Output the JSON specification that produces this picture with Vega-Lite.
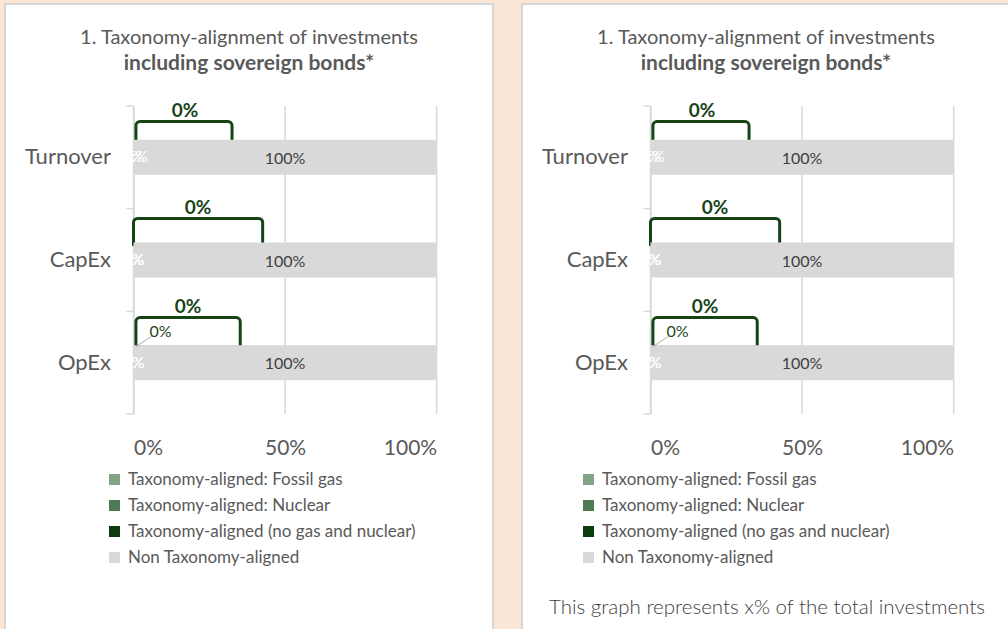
{
  "$schema": "https://vega.github.io/schema/vega-lite/v6.json",
  "background": "#FBE6D6",
  "padding": {"left": 4, "top": 3, "right": 0, "bottom": 0},
  "bounds": "flush",
  "spacing": 29,
  "config": {
    "font": "Lato",
    "view": {"fill": "white", "stroke": "#D6D6D6", "strokeWidth": 2}
  },
  "datasets": {
    "segments": [
      {"category": "Turnover", "series": "Taxonomy-aligned: Fossil gas", "value": 0, "label": "xx%"},
      {"category": "Turnover", "series": "Taxonomy-aligned: Nuclear", "value": 0, "label": "x%"},
      {"category": "Turnover", "series": "Taxonomy-aligned (no gas and nuclear)", "value": 0, "label": ""},
      {"category": "Turnover", "series": "Non Taxonomy-aligned", "value": 1, "label": "100%"},
      {"category": "CapEx", "series": "Taxonomy-aligned: Fossil gas", "value": 0, "label": "x%"},
      {"category": "CapEx", "series": "Taxonomy-aligned: Nuclear", "value": 0, "label": "0%"},
      {"category": "CapEx", "series": "Taxonomy-aligned (no gas and nuclear)", "value": 0, "label": ""},
      {"category": "CapEx", "series": "Non Taxonomy-aligned", "value": 1, "label": "100%"},
      {"category": "OpEx", "series": "Taxonomy-aligned: Fossil gas", "value": 0, "label": "0%"},
      {"category": "OpEx", "series": "Taxonomy-aligned: Nuclear", "value": 0, "label": "0%"},
      {"category": "OpEx", "series": "Taxonomy-aligned (no gas and nuclear)", "value": 0, "label": "0%"},
      {"category": "OpEx", "series": "Non Taxonomy-aligned", "value": 1, "label": "100%"}
    ],
    "brackets": [
      {"category": "Turnover", "start": 0.008, "end": 0.325, "mid": 0.17, "label": "0%"},
      {"category": "CapEx", "start": 0.0, "end": 0.426, "mid": 0.213, "label": "0%"},
      {"category": "OpEx", "start": 0.008, "end": 0.352, "mid": 0.18, "label": "0%"}
    ],
    "ticks": [{"tick": 0}, {"tick": 0.5}, {"tick": 1}]
  },
  "resolve": {"legend": {"color": "independent"}},
  "hconcat": [
    {
      "width": 488,
      "height": 626,
      "title": {
        "text": "1. Taxonomy-alignment of investments",
        "subtitle": "including sovereign bonds*",
        "anchor": "middle", "frame": "group", "offset": -70,
        "fontSize": 20, "fontWeight": "normal", "color": "#595959",
        "subtitleFontSize": 21, "subtitleFontWeight": "bold", "subtitleColor": "#595959",
        "subtitlePadding": 5, "font": "Lato", "subtitleFont": "Lato"
      },
      "layer": [
        {
          "data": {"name": "ticks"},
          "mark": {"type": "rule", "color": "#D9D9D9", "strokeWidth": 1.5, "yOffset": -51.33, "y2Offset": 51.33},
          "encoding": {
            "x": {"field": "tick", "type": "quantitative",
              "scale": {"domain": [0, 1], "range": [128.5, 431.7], "nice": false, "zero": false},
              "axis": {"values": [0, 0.5, 1], "format": ".0%", "grid": false, "domain": false, "ticks": false, "labelFontSize": 21, "labelColor": "#595959", "labelPadding": 23, "offset": -216, "title": null}},
            "y": {"datum": "Turnover", "type": "nominal",
              "scale": {"type": "band", "domain": ["Turnover", "CapEx", "OpEx"], "range": [102, 410], "paddingInner": 0.659, "paddingOuter": 0.3295},
              "axis": {"orient": "left", "offset": -128.5, "title": null, "domainColor": "#D9D9D9", "domainWidth": 1.5, "ticks": false, "labelFontSize": 22, "labelColor": "#595959", "labelPadding": 23, "grid": false}},
            "y2": {"datum": "OpEx"}
          }
        },
        {
          "data": {"name": "segments"},
          "transform": [{"filter": "datum.series == 'Non Taxonomy-aligned'"}],
          "mark": {"type": "rule", "color": "#D9D9D9", "strokeWidth": 1.5, "yOffset": -51.33},
          "encoding": {
            "y": {"field": "category", "type": "nominal"},
            "x": {"datum": -0.0231, "type": "quantitative"},
            "x2": {"datum": 0}
          }
        },
        {
          "data": {"name": "segments"},
          "transform": [{"filter": "datum.series == 'Non Taxonomy-aligned' && datum.category == 'OpEx'"}],
          "mark": {"type": "rule", "color": "#D9D9D9", "strokeWidth": 1.5, "yOffset": 51.33},
          "encoding": {
            "y": {"field": "category", "type": "nominal"},
            "x": {"datum": -0.0231, "type": "quantitative"},
            "x2": {"datum": 0}
          }
        },
        {
          "data": {"name": "brackets"},
          "transform": [{"filter": "datum.category == 'Turnover'"}],
          "mark": {"type": "bar", "fill": "transparent", "stroke": "#164417", "strokeWidth": 3, "size": 20.3, "yOffset": -25.65, "cornerRadiusTopLeft": 4, "cornerRadiusTopRight": 4},
          "encoding": {"y": {"field": "category", "type": "nominal"}, "x": {"field": "start", "type": "quantitative"}, "x2": {"field": "end"}}
        },
        {
          "data": {"name": "brackets"},
          "transform": [{"filter": "datum.category == 'CapEx'"}],
          "mark": {"type": "bar", "fill": "transparent", "stroke": "#164417", "strokeWidth": 3, "size": 26, "yOffset": -28.5, "cornerRadiusTopLeft": 4, "cornerRadiusTopRight": 4},
          "encoding": {"y": {"field": "category", "type": "nominal"}, "x": {"field": "start", "type": "quantitative"}, "x2": {"field": "end"}}
        },
        {
          "data": {"name": "brackets"},
          "transform": [{"filter": "datum.category == 'OpEx'"}],
          "mark": {"type": "bar", "fill": "transparent", "stroke": "#164417", "strokeWidth": 3, "size": 29.6, "yOffset": -30.3, "cornerRadiusTopLeft": 4, "cornerRadiusTopRight": 4},
          "encoding": {"y": {"field": "category", "type": "nominal"}, "x": {"field": "start", "type": "quantitative"}, "x2": {"field": "end"}}
        },
        {
          "data": {"name": "segments"},
          "mark": {"type": "bar"},
          "encoding": {
            "y": {"field": "category", "type": "nominal"},
            "x": {"field": "value", "type": "quantitative", "stack": "zero"},
            "color": {"field": "series", "type": "nominal",
              "scale": {"domain": ["Taxonomy-aligned: Fossil gas", "Taxonomy-aligned: Nuclear", "Taxonomy-aligned (no gas and nuclear)", "Non Taxonomy-aligned"], "range": ["#82A385", "#4E7B53", "#0D3B0F", "#D9D9D9"]},
              "legend": {"orient": "none", "legendX": 101, "legendY": 467, "title": null, "symbolType": "square", "symbolSize": 121, "symbolStrokeWidth": 0, "labelFontSize": 17, "labelColor": "#595959", "labelLimit": 500, "rowPadding": 8, "labelOffset": 5, "labelFont": "Lato"}}
          }
        },
        {
          "data": {"name": "segments"},
          "transform": [{"filter": "datum.series == 'Taxonomy-aligned: Fossil gas' || datum.series == 'Taxonomy-aligned: Nuclear'"}],
          "mark": {"type": "text", "color": "white", "fontSize": 16, "align": "center", "baseline": "middle"},
          "encoding": {"y": {"field": "category", "type": "nominal"}, "x": {"datum": 0, "type": "quantitative"}, "text": {"field": "label"}}
        },
        {
          "data": {"name": "segments"},
          "transform": [{"filter": "datum.series == 'Non Taxonomy-aligned'"}],
          "mark": {"type": "text", "color": "#404040", "fontSize": 16, "align": "center", "baseline": "middle", "dy": 1.5},
          "encoding": {"y": {"field": "category", "type": "nominal"}, "x": {"datum": 0.5, "type": "quantitative"}, "text": {"field": "label"}}
        },
        {
          "data": {"name": "segments"},
          "transform": [{"filter": "datum.series == 'Taxonomy-aligned (no gas and nuclear)' && datum.category == 'OpEx'"}],
          "mark": {"type": "point", "shape": "M-1,0.66L1,-0.66", "size": 246, "filled": false, "stroke": "#7A9A7A", "strokeWidth": 1, "yOffset": -21.2},
          "encoding": {"y": {"field": "category", "type": "nominal"}, "x": {"datum": 0.034, "type": "quantitative"}}
        },
        {
          "data": {"name": "segments"},
          "transform": [{"filter": "datum.series == 'Taxonomy-aligned (no gas and nuclear)' && datum.category == 'OpEx'"}],
          "mark": {"type": "text", "color": "#1E4620", "fontSize": 16, "align": "center", "baseline": "alphabetic", "dy": -26},
          "encoding": {"y": {"field": "category", "type": "nominal"}, "x": {"datum": 0.089, "type": "quantitative"}, "text": {"field": "label"}}
        },
        {
          "data": {"name": "brackets"},
          "transform": [{"filter": "datum.category == 'Turnover'"}],
          "mark": {"type": "text", "color": "#164417", "fontSize": 19, "fontWeight": "bold", "align": "center", "baseline": "alphabetic", "dy": -40.5},
          "encoding": {"y": {"field": "category", "type": "nominal"}, "x": {"field": "mid", "type": "quantitative"}, "text": {"field": "label"}}
        },
        {
          "data": {"name": "brackets"},
          "transform": [{"filter": "datum.category == 'CapEx'"}],
          "mark": {"type": "text", "color": "#164417", "fontSize": 19, "fontWeight": "bold", "align": "center", "baseline": "alphabetic", "dy": -45.9},
          "encoding": {"y": {"field": "category", "type": "nominal"}, "x": {"field": "mid", "type": "quantitative"}, "text": {"field": "label"}}
        },
        {
          "data": {"name": "brackets"},
          "transform": [{"filter": "datum.category == 'OpEx'"}],
          "mark": {"type": "text", "color": "#164417", "fontSize": 19, "fontWeight": "bold", "align": "center", "baseline": "alphabetic", "dy": -49.5},
          "encoding": {"y": {"field": "category", "type": "nominal"}, "x": {"field": "mid", "type": "quantitative"}, "text": {"field": "label"}}
        }
      ]
    },
    {
      "width": 488,
      "height": 626,
      "title": {
        "text": "1. Taxonomy-alignment of investments",
        "subtitle": "including sovereign bonds*",
        "anchor": "middle", "frame": "group", "offset": -70,
        "fontSize": 20, "fontWeight": "normal", "color": "#595959",
        "subtitleFontSize": 21, "subtitleFontWeight": "bold", "subtitleColor": "#595959",
        "subtitlePadding": 5, "font": "Lato", "subtitleFont": "Lato"
      },
      "layer": [
        {
          "data": {"name": "ticks"},
          "mark": {"type": "rule", "color": "#D9D9D9", "strokeWidth": 1.5, "yOffset": -51.33, "y2Offset": 51.33},
          "encoding": {
            "x": {"field": "tick", "type": "quantitative",
              "scale": {"domain": [0, 1], "range": [128.5, 431.7], "nice": false, "zero": false},
              "axis": {"values": [0, 0.5, 1], "format": ".0%", "grid": false, "domain": false, "ticks": false, "labelFontSize": 21, "labelColor": "#595959", "labelPadding": 23, "offset": -216,
                "title": "This graph represents x% of the total investments", "titleFont": "Lato", "titleFontWeight": 300, "titleFontSize": 20.5, "titleColor": "#404040", "titleX": 244.5, "titleY": 199, "titleBaseline": "alphabetic", "titleAlign": "center"}},
            "y": {"datum": "Turnover", "type": "nominal",
              "scale": {"type": "band", "domain": ["Turnover", "CapEx", "OpEx"], "range": [102, 410], "paddingInner": 0.659, "paddingOuter": 0.3295},
              "axis": {"orient": "left", "offset": -128.5, "title": null, "domainColor": "#D9D9D9", "domainWidth": 1.5, "ticks": false, "labelFontSize": 22, "labelColor": "#595959", "labelPadding": 23, "grid": false}},
            "y2": {"datum": "OpEx"}
          }
        },
        {
          "data": {"name": "segments"},
          "transform": [{"filter": "datum.series == 'Non Taxonomy-aligned'"}],
          "mark": {"type": "rule", "color": "#D9D9D9", "strokeWidth": 1.5, "yOffset": -51.33},
          "encoding": {
            "y": {"field": "category", "type": "nominal"},
            "x": {"datum": -0.0231, "type": "quantitative"},
            "x2": {"datum": 0}
          }
        },
        {
          "data": {"name": "segments"},
          "transform": [{"filter": "datum.series == 'Non Taxonomy-aligned' && datum.category == 'OpEx'"}],
          "mark": {"type": "rule", "color": "#D9D9D9", "strokeWidth": 1.5, "yOffset": 51.33},
          "encoding": {
            "y": {"field": "category", "type": "nominal"},
            "x": {"datum": -0.0231, "type": "quantitative"},
            "x2": {"datum": 0}
          }
        },
        {
          "data": {"name": "brackets"},
          "transform": [{"filter": "datum.category == 'Turnover'"}],
          "mark": {"type": "bar", "fill": "transparent", "stroke": "#164417", "strokeWidth": 3, "size": 20.3, "yOffset": -25.65, "cornerRadiusTopLeft": 4, "cornerRadiusTopRight": 4},
          "encoding": {"y": {"field": "category", "type": "nominal"}, "x": {"field": "start", "type": "quantitative"}, "x2": {"field": "end"}}
        },
        {
          "data": {"name": "brackets"},
          "transform": [{"filter": "datum.category == 'CapEx'"}],
          "mark": {"type": "bar", "fill": "transparent", "stroke": "#164417", "strokeWidth": 3, "size": 26, "yOffset": -28.5, "cornerRadiusTopLeft": 4, "cornerRadiusTopRight": 4},
          "encoding": {"y": {"field": "category", "type": "nominal"}, "x": {"field": "start", "type": "quantitative"}, "x2": {"field": "end"}}
        },
        {
          "data": {"name": "brackets"},
          "transform": [{"filter": "datum.category == 'OpEx'"}],
          "mark": {"type": "bar", "fill": "transparent", "stroke": "#164417", "strokeWidth": 3, "size": 29.6, "yOffset": -30.3, "cornerRadiusTopLeft": 4, "cornerRadiusTopRight": 4},
          "encoding": {"y": {"field": "category", "type": "nominal"}, "x": {"field": "start", "type": "quantitative"}, "x2": {"field": "end"}}
        },
        {
          "data": {"name": "segments"},
          "mark": {"type": "bar"},
          "encoding": {
            "y": {"field": "category", "type": "nominal"},
            "x": {"field": "value", "type": "quantitative", "stack": "zero"},
            "color": {"field": "series", "type": "nominal",
              "scale": {"domain": ["Taxonomy-aligned: Fossil gas", "Taxonomy-aligned: Nuclear", "Taxonomy-aligned (no gas and nuclear)", "Non Taxonomy-aligned"], "range": ["#82A385", "#4E7B53", "#0D3B0F", "#D9D9D9"]},
              "legend": {"orient": "none", "legendX": 58, "legendY": 467, "title": null, "symbolType": "square", "symbolSize": 121, "symbolStrokeWidth": 0, "labelFontSize": 17, "labelColor": "#595959", "labelLimit": 500, "rowPadding": 8, "labelOffset": 5, "labelFont": "Lato"}}
          }
        },
        {
          "data": {"name": "segments"},
          "transform": [{"filter": "datum.series == 'Taxonomy-aligned: Fossil gas' || datum.series == 'Taxonomy-aligned: Nuclear'"}],
          "mark": {"type": "text", "color": "white", "fontSize": 16, "align": "center", "baseline": "middle"},
          "encoding": {"y": {"field": "category", "type": "nominal"}, "x": {"datum": 0, "type": "quantitative"}, "text": {"field": "label"}}
        },
        {
          "data": {"name": "segments"},
          "transform": [{"filter": "datum.series == 'Non Taxonomy-aligned'"}],
          "mark": {"type": "text", "color": "#404040", "fontSize": 16, "align": "center", "baseline": "middle", "dy": 1.5},
          "encoding": {"y": {"field": "category", "type": "nominal"}, "x": {"datum": 0.5, "type": "quantitative"}, "text": {"field": "label"}}
        },
        {
          "data": {"name": "segments"},
          "transform": [{"filter": "datum.series == 'Taxonomy-aligned (no gas and nuclear)' && datum.category == 'OpEx'"}],
          "mark": {"type": "point", "shape": "M-1,0.66L1,-0.66", "size": 246, "filled": false, "stroke": "#7A9A7A", "strokeWidth": 1, "yOffset": -21.2},
          "encoding": {"y": {"field": "category", "type": "nominal"}, "x": {"datum": 0.034, "type": "quantitative"}}
        },
        {
          "data": {"name": "segments"},
          "transform": [{"filter": "datum.series == 'Taxonomy-aligned (no gas and nuclear)' && datum.category == 'OpEx'"}],
          "mark": {"type": "text", "color": "#1E4620", "fontSize": 16, "align": "center", "baseline": "alphabetic", "dy": -26},
          "encoding": {"y": {"field": "category", "type": "nominal"}, "x": {"datum": 0.089, "type": "quantitative"}, "text": {"field": "label"}}
        },
        {
          "data": {"name": "brackets"},
          "transform": [{"filter": "datum.category == 'Turnover'"}],
          "mark": {"type": "text", "color": "#164417", "fontSize": 19, "fontWeight": "bold", "align": "center", "baseline": "alphabetic", "dy": -40.5},
          "encoding": {"y": {"field": "category", "type": "nominal"}, "x": {"field": "mid", "type": "quantitative"}, "text": {"field": "label"}}
        },
        {
          "data": {"name": "brackets"},
          "transform": [{"filter": "datum.category == 'CapEx'"}],
          "mark": {"type": "text", "color": "#164417", "fontSize": 19, "fontWeight": "bold", "align": "center", "baseline": "alphabetic", "dy": -45.9},
          "encoding": {"y": {"field": "category", "type": "nominal"}, "x": {"field": "mid", "type": "quantitative"}, "text": {"field": "label"}}
        },
        {
          "data": {"name": "brackets"},
          "transform": [{"filter": "datum.category == 'OpEx'"}],
          "mark": {"type": "text", "color": "#164417", "fontSize": 19, "fontWeight": "bold", "align": "center", "baseline": "alphabetic", "dy": -49.5},
          "encoding": {"y": {"field": "category", "type": "nominal"}, "x": {"field": "mid", "type": "quantitative"}, "text": {"field": "label"}}
        }
      ]
    }
  ]
}
